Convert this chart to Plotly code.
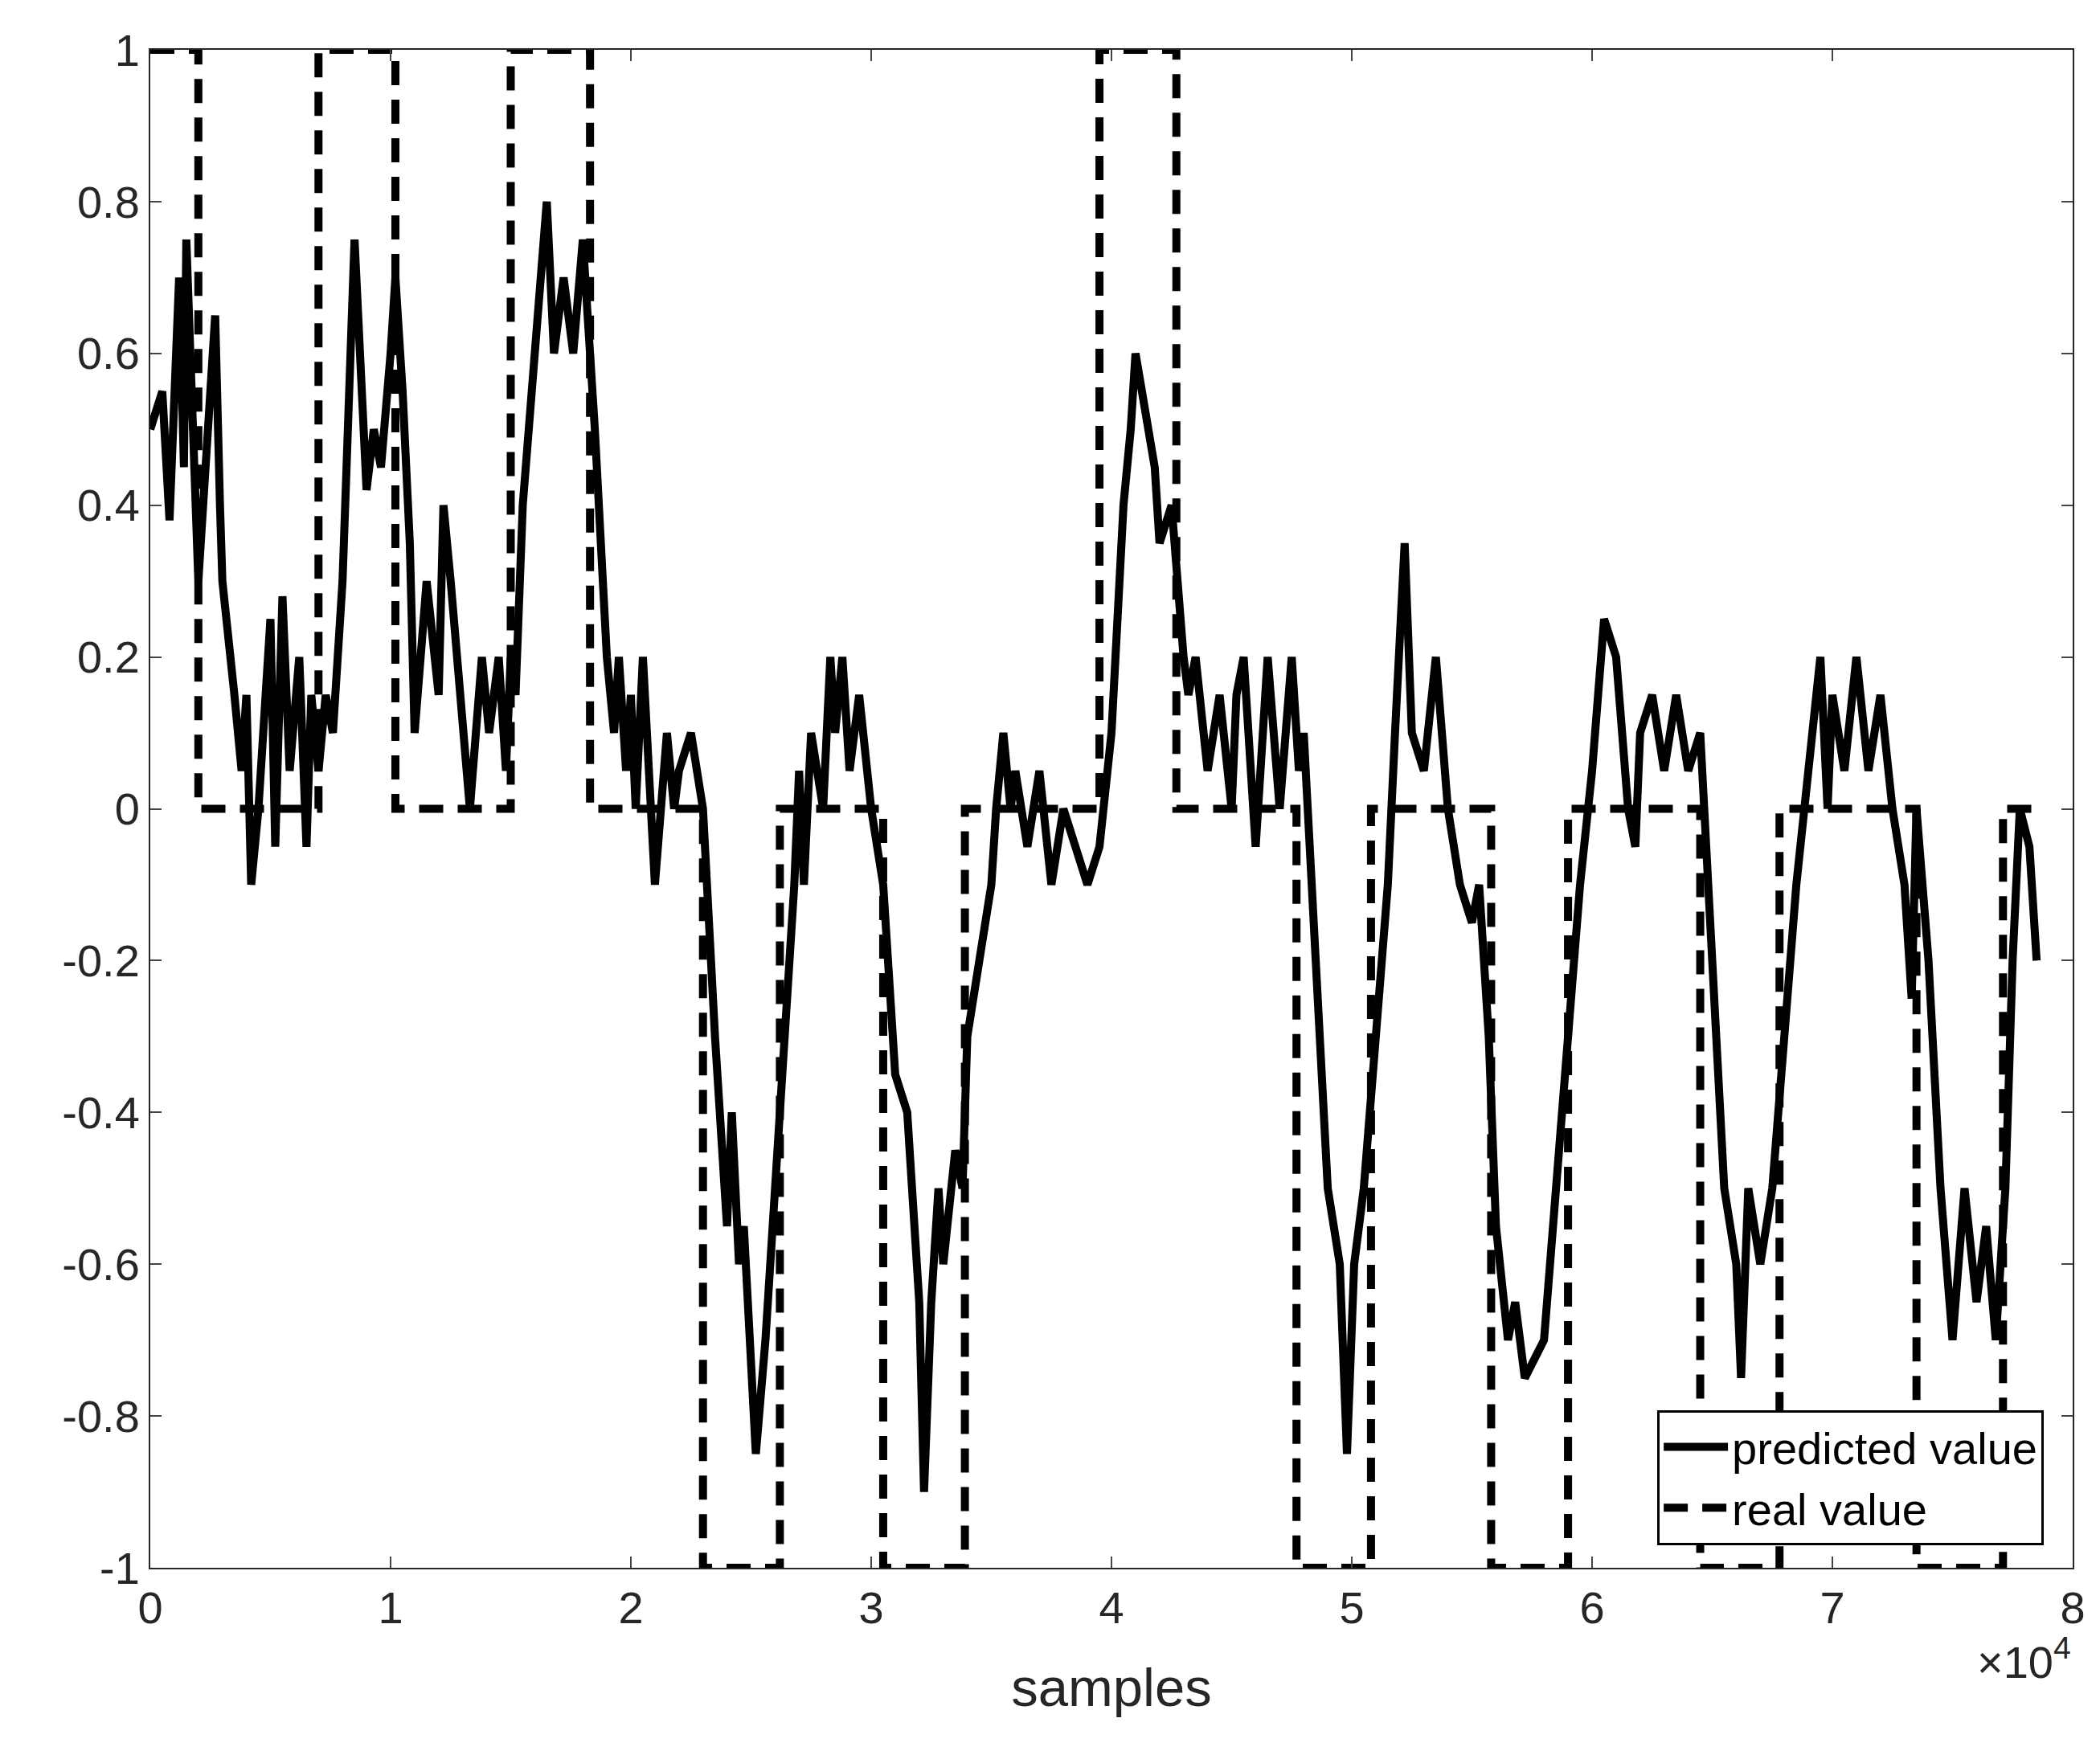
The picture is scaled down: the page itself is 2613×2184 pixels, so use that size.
import plotly.graph_objects as go

# real value: step levels (sample index where each level starts)
real_x = [0, 2000, 7000, 10200, 15000, 18300, 23000, 26200, 30500, 33900,
          39500, 42700, 47700, 50800, 55800, 59000, 64500, 67800, 73500, 77100, 78500]
real_y = [1, 0, 1, 0, 1, 0, -1, 0, -1, 0, 1, 0, -1, 0, -1, 0, -1, 0, -1, 0, 0]

# predicted value (x in units of 1e4 samples)
pred_x = [0, 0.05, 0.08, 0.12, 0.14, 0.15, 0.2, 0.27, 0.29, 0.3, 0.35, 0.38, 0.4, 0.42, 0.45,
          0.5, 0.52, 0.55, 0.58, 0.62, 0.65, 0.67, 0.7, 0.73, 0.76, 0.8, 0.85, 0.87, 0.9, 0.93,
          0.96, 1.0, 1.02, 1.05, 1.08, 1.1, 1.15, 1.2, 1.22, 1.25, 1.3, 1.33, 1.38, 1.41, 1.45,
          1.48, 1.5, 1.52, 1.55, 1.6, 1.62, 1.65, 1.68, 1.72, 1.76, 1.8, 1.85, 1.88, 1.9, 1.93,
          1.95, 1.98, 2.0, 2.02, 2.05, 2.1, 2.15, 2.18, 2.2, 2.25, 2.3, 2.35, 2.38, 2.4, 2.42,
          2.45, 2.47, 2.5, 2.52, 2.56, 2.6, 2.62, 2.65, 2.68, 2.7, 2.72, 2.75, 2.8, 2.83, 2.85,
          2.88, 2.91, 2.95, 3.0, 3.05, 3.1, 3.15, 3.2, 3.22, 3.25, 3.28, 3.3, 3.35, 3.38, 3.4,
          3.45, 3.5, 3.52, 3.55, 3.58, 3.6, 3.65, 3.7, 3.75, 3.8, 3.85, 3.9, 3.95, 4.0, 4.05,
          4.08, 4.1, 4.15, 4.18, 4.2, 4.25, 4.3, 4.32, 4.35, 4.4, 4.45, 4.5, 4.52, 4.55, 4.6,
          4.65, 4.7, 4.75, 4.78, 4.8, 4.85, 4.9, 4.95, 4.98, 5.01, 5.05, 5.1, 5.15, 5.18, 5.22,
          5.25, 5.3, 5.35, 5.4, 5.45, 5.5, 5.53, 5.57, 5.6, 5.65, 5.68, 5.72, 5.8, 5.85, 5.9,
          5.95, 6.0, 6.05, 6.1, 6.15, 6.18, 6.2, 6.25, 6.3, 6.35, 6.4, 6.45, 6.5, 6.55, 6.6,
          6.62, 6.65, 6.7, 6.75, 6.8, 6.85, 6.9, 6.95, 6.98, 7.0, 7.05, 7.1, 7.15, 7.2, 7.25,
          7.3, 7.33, 7.35, 7.4, 7.45, 7.5, 7.55, 7.6, 7.64, 7.68, 7.72, 7.75, 7.78, 7.82, 7.85]
pred_y = [0.5, 0.55, 0.38, 0.7, 0.45, 0.75, 0.3, 0.65, 0.4, 0.3, 0.15, 0.05, 0.15, -0.1, 0.0,
          0.25, -0.05, 0.28, 0.05, 0.2, -0.05, 0.15, 0.05, 0.15, 0.1, 0.3, 0.75, 0.6, 0.42, 0.5,
          0.45, 0.6, 0.7, 0.55, 0.35, 0.1, 0.3, 0.15, 0.4, 0.3, 0.1, 0.0, 0.2, 0.1, 0.2,
          0.05, 0.2, 0.15, 0.4, 0.6, 0.65, 0.8, 0.6, 0.7, 0.6, 0.75, 0.5, 0.3, 0.2, 0.1,
          0.2, 0.05, 0.15, 0.0, 0.2, -0.1, 0.1, 0.0, 0.05, 0.1, 0.0, -0.3, -0.45, -0.55, -0.4,
          -0.6, -0.55, -0.75, -0.85, -0.7, -0.5, -0.4, -0.25, -0.1, 0.05, -0.1, 0.1, 0.0, 0.2, 0.1,
          0.2, 0.05, 0.15, 0.0, -0.1, -0.35, -0.4, -0.65, -0.9, -0.65, -0.5, -0.6, -0.45, -0.5, -0.3,
          -0.2, -0.1, 0.0, 0.1, 0.0, 0.05, -0.05, 0.05, -0.1, 0.0, -0.05, -0.1, -0.05, 0.1, 0.4,
          0.5, 0.6, 0.5, 0.45, 0.35, 0.4, 0.2, 0.15, 0.2, 0.05, 0.15, 0.0, 0.15, 0.2, -0.05,
          0.2, 0.0, 0.2, 0.05, 0.1, -0.2, -0.5, -0.6, -0.85, -0.6, -0.5, -0.3, -0.1, 0.1, 0.35,
          0.1, 0.05, 0.2, 0.0, -0.1, -0.15, -0.1, -0.3, -0.55, -0.7, -0.65, -0.75, -0.7, -0.5, -0.3,
          -0.1, 0.05, 0.25, 0.2, 0.0, -0.05, 0.1, 0.15, 0.05, 0.15, 0.05, 0.1, -0.2, -0.5, -0.6,
          -0.75, -0.5, -0.6, -0.5, -0.3, -0.1, 0.05, 0.2, 0.0, 0.15, 0.05, 0.2, 0.05, 0.15, 0.0,
          -0.1, -0.25, 0.0, -0.2, -0.5, -0.7, -0.5, -0.65, -0.55, -0.7, -0.5, -0.2, 0.0, -0.05, -0.2]

x_ticks = [0, 1, 2, 3, 4, 5, 6, 7, 8]
y_ticks = [-1, -0.8, -0.6, -0.4, -0.2, 0, 0.2, 0.4, 0.6, 0.8, 1]

font = dict(family="Liberation Sans, Arial", size=56, color="#262626")

fig = go.Figure()
fig.add_trace(go.Scatter(x=[v * 1e4 for v in pred_x], y=pred_y, mode="lines",
                         name="predicted value", line=dict(color="black", width=10)))
fig.add_trace(go.Scatter(x=real_x, y=real_y, mode="lines", line_shape="hv",
                         name="real value",
                         line=dict(color="black", width=10, dash="30px,18px")))

fig.update_layout(
    width=2613, height=2184,
    paper_bgcolor="white", plot_bgcolor="white",
    margin=dict(l=179, r=42, t=54, b=241),
    font=font,
    showlegend=True,
    legend=dict(x=0.985, y=0.015, xanchor="right", yanchor="bottom",
                bordercolor="black", borderwidth=3, bgcolor="white",
                tracegroupgap=10, itemwidth=80,
                font=dict(family="Liberation Sans, Arial", size=56, color="black")),
)
fig.update_xaxes(range=[0, 80000], tickvals=[v * 1e4 for v in x_ticks],
                 ticktext=[str(v) for v in x_ticks],
                 ticks="inside", ticklen=14, tickwidth=2, showline=True, linecolor="#262626",
                 linewidth=2, mirror="ticks", showgrid=False, zeroline=False,
                 title=dict(text="samples", standoff=45))
fig.update_yaxes(range=[-1, 1], tickvals=y_ticks, ticktext=[f"{v:g}" for v in y_ticks],
                 ticks="inside", ticklen=14, tickwidth=2, showline=True, linecolor="#262626",
                 linewidth=2, mirror="ticks", showgrid=False, zeroline=False)
fig.add_annotation(text="×10<sup>4</sup>", xref="paper", yref="paper", x=1.0, y=-0.04,
                   xanchor="right", yanchor="top", showarrow=False, font=font)

fig.write_html("out.html")
